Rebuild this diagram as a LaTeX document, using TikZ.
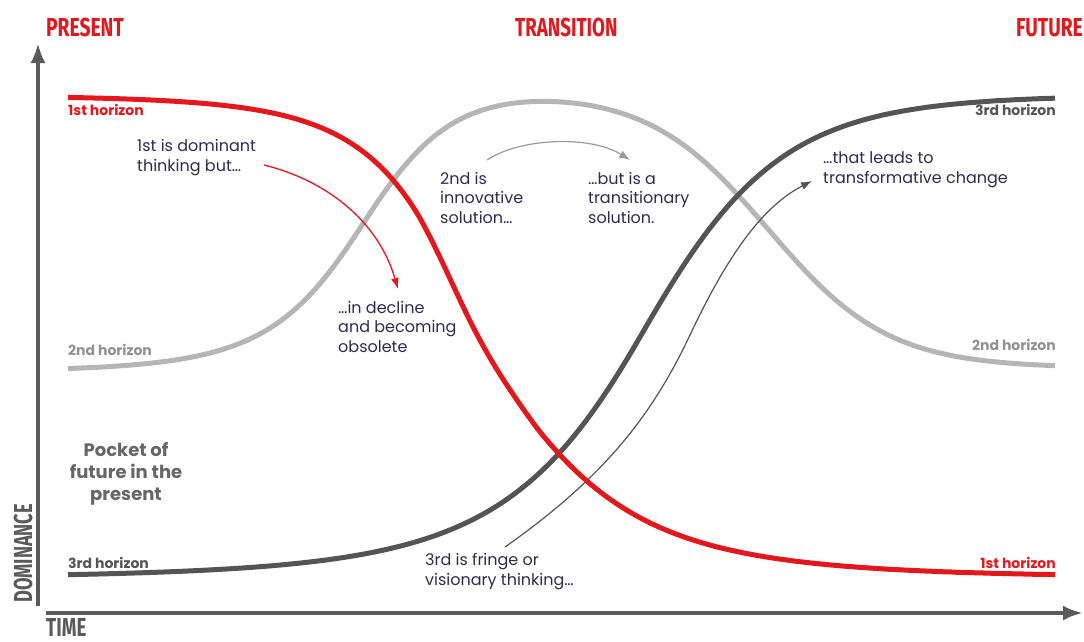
\documentclass[tikz,border=0pt]{standalone}
\usepackage{fontspec}
\usepackage{graphicx}
\setmainfont{Poppins}
\newfontfamily\headfont{Fira Sans}
\usetikzlibrary{arrows.meta}
\definecolor{hred}{HTML}{E3171C}
\definecolor{hgray}{HTML}{B5B5B5}
\definecolor{hdark}{HTML}{545454}
\definecolor{ink}{HTML}{2E2B50}
\definecolor{axisgray}{HTML}{5A5A5A}
\definecolor{pocketgray}{HTML}{666666}
\tikzset{
  curve/.style={line width=5pt, line join=round},
  ann/.style={font=\fontsize{16}{19.5}\selectfont, text=ink, align=left, inner sep=0pt, anchor=base west},
  hlabel/.style={font=\bfseries\fontsize{14}{15}\selectfont, inner sep=0pt, anchor=base west},
  hlabelr/.style={font=\bfseries\fontsize{14}{15}\selectfont, inner sep=0pt, anchor=base east},
  heading/.style={font=\headfont\bfseries\fontsize{26}{30}\selectfont, text=hred, inner sep=0pt, anchor=base west},
  axislabel/.style={font=\headfont\bfseries\fontsize{26}{30}\selectfont, text=axisgray, inner sep=0pt, anchor=base west},
  axisline/.style={line width=4pt, draw=axisgray, -{Latex[length=20pt,width=15pt]}},
  notearrow/.style={line width=1.3pt, -{Latex[length=11pt,width=8pt]}},
}
\begin{document}
\begin{tikzpicture}[x=1pt,y=-1pt,
  declare function={
    lg(\u) = 1/(1+exp(min(9,max(-9,-\u))));
    th(\u) = 2*lg(2*\u) - 1;
    sred(\t) = 64 + 11*th((\t-478)/40) + 0.07*max(0,418-\t) + 0.08*max(0,\t-538);
    redf(\t) = 95 + 483*lg((\t-478)/sred(\t));
    sdk(\t) = (\t<640) ? (70+0.09*(640-\t)) : (70+0.03*(\t-640));
    dkf(\t) = 579 - 484*lg((\t-640)/sdk(\t));
    sgl(\t) = (\t<358) ? (46+0.07*(358-\t)) : 46;
    grf(\t) = 372 - 282*lg((\t-358)/sgl(\t)) + 278*lg((\t-768)/60);
  }]
\useasboundingbox (0,0) rectangle (1084,641);
% headings
\node[heading] (present) at (46,36) {\scalebox{0.74}[1]{PRESENT}};
\node[heading] (transition) at (515,36) {\scalebox{0.72}[1]{TRANSITION}};
\node[heading, anchor=base east] (future) at (1083,36) {\scalebox{0.74}[1]{FUTURE}};
\node[axislabel, rotate=90] (dominance) at (32,603) {\scalebox{0.7}[1]{DOMINANCE}};
\node[axislabel] (time) at (46,636) {\scalebox{0.72}[1]{TIME}};
% axes
\coordinate (yb) at (38,606);
\coordinate (yt) at (38,43);
\coordinate (xl) at (46,613);
\coordinate (xr) at (1083,613);
\draw[axisline] (yb) -- (yt);
\draw[axisline] (xl) -- (xr);
% 2nd horizon (light gray)
\draw[curve, hgray] plot[domain=68:1055, samples=220] (\x, {grf(\x)});
% thin arrow 3rd -> transformative
\coordinate (a3s) at (505,547);
\coordinate (a3e) at (812,181);
\draw[notearrow, hdark, line width=1.2pt] (a3s) .. controls (600,480) and (650,420) .. (690,335) .. controls (730,250) and (765,205) .. (a3e);
% 3rd horizon (dark)
\draw[curve, hdark] plot[domain=68:1055, samples=220] (\x, {dkf(\x)});
% 1st horizon (red)
\draw[curve, hred] plot[domain=68:1055, samples=220] (\x, {redf(\x)});
% horizon labels
\node[hlabel, text=hred] (h1l) at (68,115) {1st horizon};
\node[hlabel, text=hgray!80!black] (h2l) at (68,355) {2nd horizon};
\node[hlabel, text=hdark] (h3l) at (68,568) {3rd horizon};
\node[hlabelr, text=hdark] (h3r) at (1056,115) {3rd horizon};
\node[hlabelr, text=hgray!80!black] (h2r) at (1056,350) {2nd horizon};
\node[hlabelr, text=hred] (h1r) at (1056,568) {1st horizon};
% annotations (anchored at the baseline of the last line)
\node[ann] (dom) at (137,171) {1st is dominant\\thinking but\dots};
\node[ann] (decl) at (338,352) {\dots in decline\\and becoming\\obsolete};
\node[ann] (innov) at (440,223) {2nd is\\innovative\\solution\dots};
\node[ann] (trans) at (588,223) {\dots but is a\\transitionary\\solution.};
\node[ann] (lead) at (823,183) {\dots that leads to\\transformative change};
\node[ann] (fringe) at (425,585) {3rd is fringe or\\visionary thinking\dots};
\node[font=\bfseries\fontsize{18}{22}\selectfont, text=pocketgray, align=center, inner sep=0pt, anchor=base] (pocket) at (126,500) {Pocket of\\future in the\\present};
% annotation arrows
\coordinate (a1s) at (264,165);
\coordinate (a1e) at (398,289);
\draw[notearrow, hred] (a1s) .. controls (325,180) and (378,220) .. (a1e);
\coordinate (a2s) at (487,160);
\coordinate (a2e) at (630,160);
\draw[notearrow, hgray!85!black, line width=1.2pt] (a2s) .. controls (520,138) and (590,135) .. (a2e);
\end{tikzpicture}
\end{document}
